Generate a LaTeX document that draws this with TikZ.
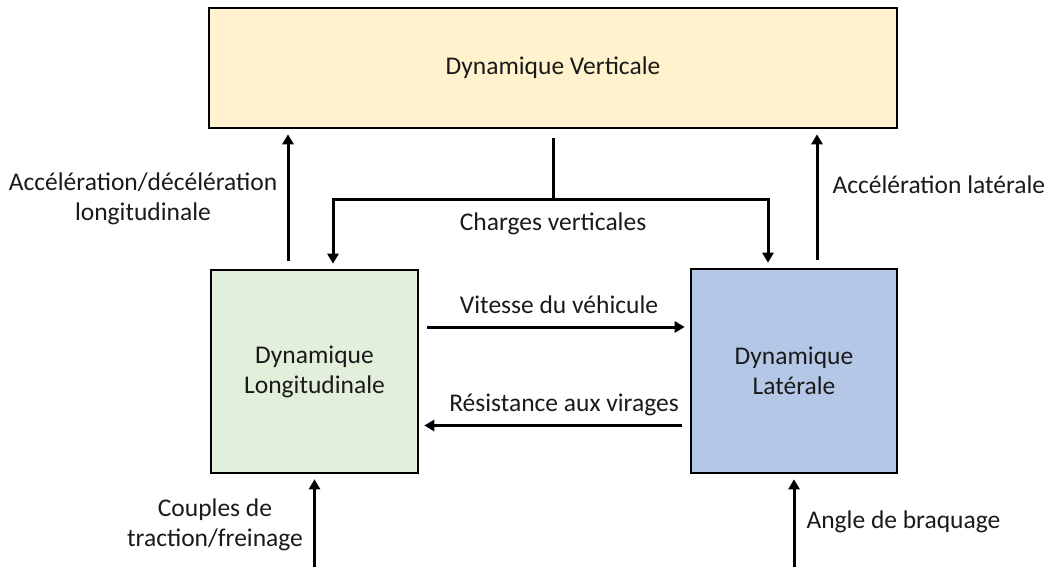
\documentclass[tikz,border=0pt]{standalone}
\usepackage{fontspec}
\setmainfont{Carlito}
\usepackage{tikz}
\usetikzlibrary{arrows.meta, calc}
\definecolor{vertfill}{HTML}{FFF2CC}
\definecolor{longfill}{HTML}{E2EFDA}
\definecolor{latfill}{HTML}{B4C7E7}
\definecolor{textcol}{HTML}{1A1A1A}

\begin{document}
\begin{tikzpicture}[
    x=1pt, y=-1pt,
    every node/.style={font=\fontsize{25.5}{30}\selectfont, align=center, text=textcol},
    block/.style={draw, line width=2.6pt, inner sep=0pt},
    wire/.style={line width=3pt},
    flow/.style={line width=3pt, -{Triangle[length=10pt,width=11pt]},
    shorten <=8pt, shorten >=5pt}
    ]
    \useasboundingbox (0,0) rectangle (1051,567);
    % Blocks
    \node[block, fill=vertfill, minimum width=688pt, minimum height=120pt]
        (vert) at (553,68) {Dynamique Verticale};
    \node[block, fill=longfill, minimum width=207pt, minimum height=203pt]
        (longi) at (314.5,371.5) {Dynamique\\Longitudinale};
    \node[block, fill=latfill, minimum width=206pt, minimum height=204pt]
        (lat) at (794,371) {Dynamique\\Latérale};
    % Accelerations
    \draw[flow] ([xshift=-26.5pt]longi.north) -- ([xshift=-26.5pt]longi.north |- vert.south);
    \draw[flow] ([xshift=23pt]lat.north) -- ([xshift=23pt]lat.north |- vert.south);
    \node (acclong) at (143,199) {Accélération/décélération\\longitudinale};
    \node[anchor=west] (acclat) at (829,185) {Accélération latérale};
    % Charges
    \coordinate (split) at (553,199);
    \draw[wire, shorten <=9pt] (vert.south) -- (split);
    \draw[flow, shorten <=0pt] (split) -| ([xshift=18.5pt]longi.north);
    \draw[flow, shorten <=0pt] (split) -| ([xshift=-26pt]lat.north);
    \node (charges) at (553,224) {Charges verticales};
    % Between blocks
    \draw[flow] ([yshift=44.5pt]longi.east) -- ([yshift=44.5pt]longi.east -| lat.west);
    \node (vitesse) at (559,305) {Vitesse du véhicule};
    \draw[flow] ([yshift=-54.5pt]lat.west) -- ([yshift=-54.5pt]lat.west -| longi.east);
    \node (resist) at (564,405) {Résistance aux virages};
    % Inputs
    \coordinate (inlong) at (314.5,567);
    \coordinate (inlat) at (794,567);
    \draw[flow, shorten <=0pt] (inlong) -- (longi.south);
    \draw[flow, shorten <=0pt] (inlat) -- (lat.south);
    \node (couples) at (215,525) {Couples de\\traction/freinage};
    \node[anchor=west] (angle) at (803,522) {Angle de braquage};
\end{tikzpicture}
\end{document}
